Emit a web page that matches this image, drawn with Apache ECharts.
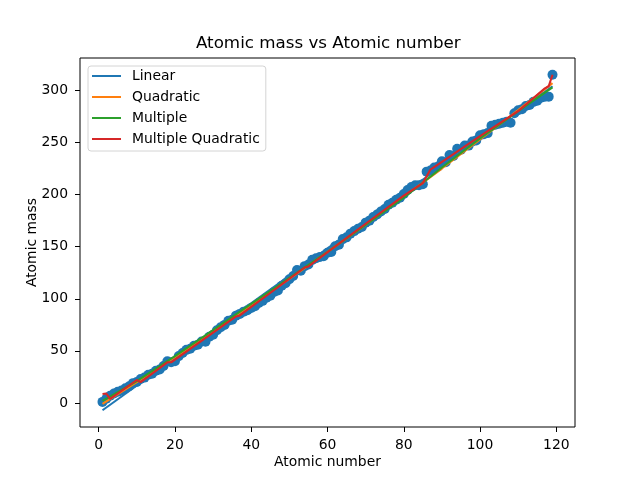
<!DOCTYPE html>
<html>
<head>
<meta charset="utf-8">
<script src="https://cdn.jsdelivr.net/npm/echarts@6/dist/echarts.min.js"></script>
<style>
html,body{margin:0;padding:0;background:#fff;}
#chart{width:640px;height:480px;}
</style>
</head>
<body>
<div id="chart"></div>
<script>
// Atomic numbers 1..119
const atomicNumber = [1,2,3,4,5,6,7,8,9,10,11,12,13,14,15,16,17,18,19,20,
21,22,23,24,25,26,27,28,29,30,31,32,33,34,35,36,37,38,39,40,
41,42,43,44,45,46,47,48,49,50,51,52,53,54,55,56,57,58,59,60,
61,62,63,64,65,66,67,68,69,70,71,72,73,74,75,76,77,78,79,80,
81,82,83,84,85,86,87,88,89,90,91,92,93,94,95,96,97,98,99,100,
101,102,103,104,105,106,107,108,109,110,111,112,113,114,115,116,117,118,119];
// Atomic masses
const atomicMass = [1.008,4.003,6.94,9.012,10.81,12.011,14.007,15.999,18.998,20.18,
22.99,24.305,26.982,28.085,30.974,32.06,35.45,39.948,39.098,40.078,
44.956,47.867,50.942,51.996,54.938,55.845,58.933,58.693,63.546,65.38,
69.723,72.63,74.922,78.971,79.904,83.798,85.468,87.62,88.906,91.224,
92.906,95.95,98,101.07,102.91,106.42,107.87,112.41,114.82,118.71,
121.76,127.6,126.9,131.29,132.91,137.33,138.91,140.12,140.91,144.24,
145,150.36,151.96,157.25,158.93,162.5,164.93,167.26,168.93,173.05,
174.97,178.49,180.95,183.84,186.21,190.23,192.22,195.08,196.97,200.59,
204.38,207.2,208.98,209,210,222,223,226,227,232.04,
231.04,238.03,237,244,243,247,247,251,252,257,
258,259,266,267,268,269,270,269,278,281,
282,285,286,289,290,293,294,294,315];

// Fitted curves
const linearX = [1, 119];
const linearY = [-7, 304];

const quadX = [1,10,20,30,40,50,60,70,80,90,100,110,119];
const quadY = [-1,20,44,68,94,119,145,171,198,225,253,281,307];

const multX = [1,10,20,30,40,50,60,70,80,90,100,110,119];
const multY = [2,21,45,70,95,120,145,171,197,226,254,280,303];

const multQuadX = [1,2,3,10,11,18,19,36,37,54,55,70,80,85,87,100,110,117,118,119];
const multQuadY = [8.5,9,4,22,20,39,39,83,84,130,131,172,199,211,224,256,280,302,304,315];

const xTicks = [0,20,40,60,80,100,120];
const yTicks = [0,50,100,150,200,250,300];

const seriesNames = ['Linear','Quadratic','Multiple','Multiple Quadratic'];
const seriesColors = ['#1f77b4','#ff7f0e','#2ca02c','#d62728'];

function pairs(xs, ys){ return xs.map((x,i)=>[x, ys[i]]); }

const chart = echarts.init(document.getElementById('chart'), null, {renderer:'canvas'});
const font = 'DejaVu Sans';

const lineData = [pairs(linearX,linearY), pairs(quadX,quadY), pairs(multX,multY), pairs(multQuadX,multQuadY)];

const option = {
  animation: false,
  backgroundColor: '#fff',
  title: {
    text: 'Atomic mass vs Atomic number',
    left: 196, top: 35, padding: 0,
    textStyle: {fontFamily: font, fontSize: 16.7, fontWeight: 'normal', color: '#000'}
  },
  legend: {
    data: seriesNames,
    orient: 'vertical',
    left: 88, top: 66,
    padding: [2,6,4,4],
    itemGap: 5,
    itemWidth: 29, itemHeight: 2,
    icon: 'rect',
    borderColor: '#d4d4d4', borderWidth: 1, borderRadius: 3,
    backgroundColor: 'rgba(255,255,255,0.8)',
    textStyle: {fontFamily: font, fontSize: 13.9, color: '#000', lineHeight: 16, padding: [0,0,0,6]}
  },
  grid: {left: 80, right: 65, top: 58, bottom: 53, show: true, borderColor: '#000', borderWidth: 1, backgroundColor: 'transparent'},
  xAxis: {
    type: 'value', min: -4.9, max: 124.9,
    name: 'Atomic number', nameLocation: 'middle', nameGap: 28, nameMoveOverlap: false,
    nameTextStyle: {fontFamily: font, fontSize: 13.9, color: '#000'},
    axisLine: {show: false, onZero: false},
    splitLine: {show: false},
    axisTick: {show: true, inside: false, length: 5, lineStyle: {color: '#000', width: 1}, customValues: xTicks},
    axisLabel: {fontFamily: font, fontSize: 13.9, color: '#000', margin: 11, customValues: xTicks}
  },
  yAxis: {
    type: 'value', min: -23.1, max: 331.1,
    name: 'Atomic mass', nameLocation: 'middle', nameGap: 41, nameMoveOverlap: false,
    nameTextStyle: {fontFamily: font, fontSize: 13.9, color: '#000'},
    axisLine: {show: false, onZero: false},
    splitLine: {show: false},
    axisTick: {show: true, inside: false, length: 5, lineStyle: {color: '#000', width: 1}, customValues: yTicks},
    axisLabel: {fontFamily: font, fontSize: 13.9, color: '#000', margin: 12, customValues: yTicks}
  },
  series: [
    {
      type: 'scatter', name: 'data',
      data: pairs(atomicNumber, atomicMass),
      symbolSize: 10,
      itemStyle: {color: '#1f77b4', opacity: 1},
      z: 1
    }
  ].concat(seriesNames.map((n,i)=>({
    type: 'line', name: n,
    data: lineData[i],
    showSymbol: false, symbol: 'none',
    lineStyle: {color: seriesColors[i], width: 2.1},
    itemStyle: {color: seriesColors[i]},
    z: 2
  })))
};
chart.setOption(option);
</script>
</body>
</html>
